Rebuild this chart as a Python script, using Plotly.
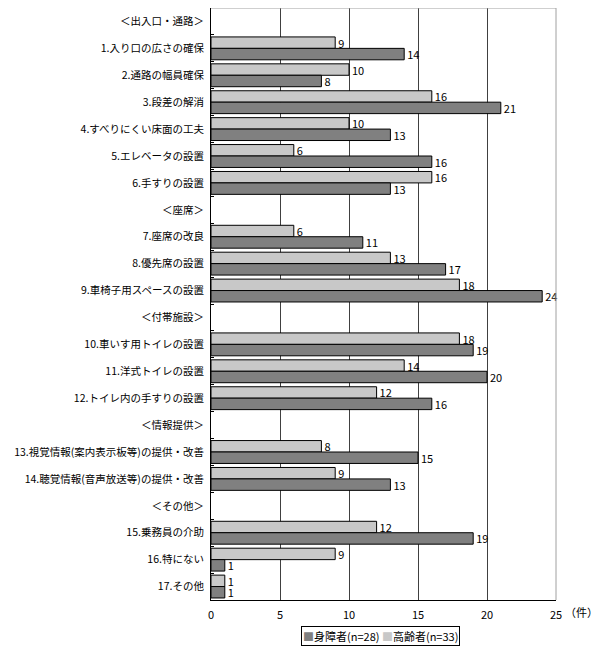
import plotly.graph_objects as go

categories = [
    "＜出入口・通路＞",
    "1.入り口の広さの確保",
    "2.通路の幅員確保",
    "3.段差の解消",
    "4.すべりにくい床面の工夫",
    "5.エレベータの設置",
    "6.手すりの設置",
    "＜座席＞",
    "7.座席の改良",
    "8.優先席の設置",
    "9.車椅子用スペースの設置",
    "＜付帯施設＞",
    "10.車いす用トイレの設置",
    "11.洋式トイレの設置",
    "12.トイレ内の手すりの設置",
    "＜情報提供＞",
    "13.視覚情報(案内表示板等)の提供・改善",
    "14.聴覚情報(音声放送等)の提供・改善",
    "＜その他＞",
    "15.乗務員の介助",
    "16.特にない",
    "17.その他",
]

koreisha = [None, 9, 10, 16, 10, 6, 16, None, 6, 13, 18, None, 18, 14, 12, None, 8, 9, None, 12, 9, 1]
shinshosha = [None, 14, 8, 21, 13, 16, 13, None, 11, 17, 24, None, 19, 20, 16, None, 15, 13, None, 19, 1, 1]

series_names = ["身障者(n=28)", "高齢者(n=33)"]
x_ticks = [0, 5, 10, 15, 20, 25]
unit_label = "（件）"

FONT = "Noto Sans CJK JP"
LIGHT = "#c8c8c8"
DARK = "#808080"

fig = go.Figure()
fig.add_trace(go.Bar(
    y=categories, x=koreisha, orientation="h", name=series_names[1],
    marker=dict(color=LIGHT, line=dict(color="#000000", width=1)),
    text=[("" if v is None else str(v)) for v in koreisha],
    textposition="outside", constraintext="none", cliponaxis=False,
    textfont=dict(size=11, color="#000000", family=FONT),
    showlegend=False,
))
fig.add_trace(go.Bar(
    y=categories, x=shinshosha, orientation="h", name=series_names[0],
    marker=dict(color=DARK, line=dict(color="#000000", width=1)),
    text=[("" if v is None else str(v)) for v in shinshosha],
    textposition="outside", constraintext="none", cliponaxis=False,
    textfont=dict(size=11, color="#000000", family=FONT),
    showlegend=False,
))

# page body has an 8px default margin, so the figure is sized to fit inside it
fig.update_layout(
    width=592, height=644,
    margin=dict(l=203, r=44, t=0, b=52, autoexpand=False),
    paper_bgcolor="#ffffff", plot_bgcolor="#ffffff",
    font=dict(family=FONT, size=11, color="#000000"),
    barmode="group", bargap=0.15, bargroupgap=0,
    showlegend=False,
    xaxis=dict(
        range=[0, 25], tickvals=x_ticks, ticktext=[str(v) for v in x_ticks],
        showgrid=True, gridcolor="#404040", gridwidth=1,
        showline=True, linecolor="#000000", linewidth=1,
        zeroline=False, ticks="", tickfont=dict(size=11),
        ticklabelstandoff=5, automargin=False,
    ),
    yaxis=dict(
        autorange="reversed", type="category",
        showgrid=False, showline=True, linecolor="#000000", linewidth=1,
        ticks="inside", ticklen=3, tickcolor="#000000", tickson="boundaries",
        tickfont=dict(size=10.5), ticklabelstandoff=4, automargin=False,
    ),
)

# light-gray frame on top and right
fig.add_shape(type="line", xref="paper", yref="paper", x0=0, x1=1, y0=1, y1=1,
              line=dict(color="#a0a0a0", width=1), layer="above")
fig.add_shape(type="line", xref="paper", yref="paper", x0=1, x1=1, y0=0, y1=1,
              line=dict(color="#a0a0a0", width=1), layer="above")

fig.add_annotation(text=unit_label, xref="paper", yref="paper", x=1.075, y=-0.02,
                   xanchor="center", yanchor="middle", showarrow=False,
                   font=dict(size=11, family=FONT))

# legend box
legend_text = (f"<span style='color:{DARK}'>■</span>{series_names[0]} "
               f"<span style='color:{LIGHT}'>■</span>{series_names[1]}")
fig.add_annotation(text=legend_text, xref="paper", yref="paper", x=0.49, y=-0.044,
                   xanchor="center", yanchor="top", showarrow=False,
                   bordercolor="#000000", borderwidth=1, borderpad=1,
                   bgcolor="#ffffff", font=dict(size=11, family=FONT))

fig.write_html("out.html")
